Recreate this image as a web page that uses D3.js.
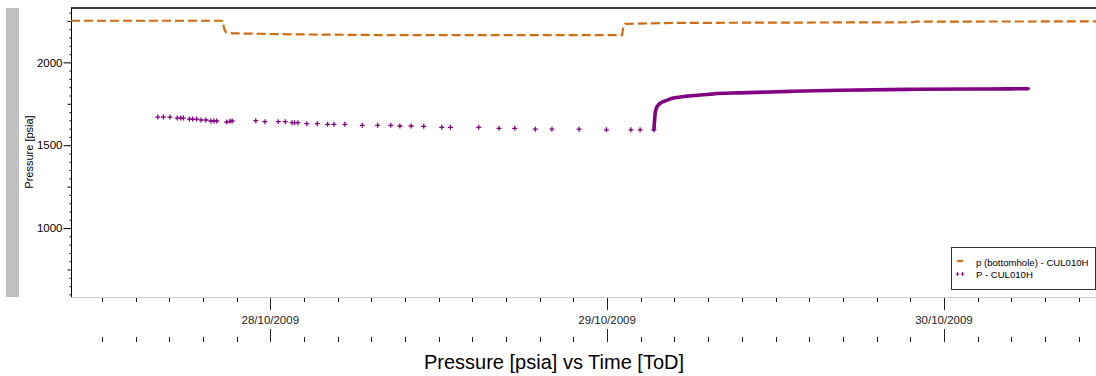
<!DOCTYPE html>
<html>
<head>
<meta charset="utf-8">
<script src="https://cdn.jsdelivr.net/npm/d3@7"></script>
<style>
  html, body { margin: 0; padding: 0; background: #fff; }
  svg { display: block; font-family: "Liberation Sans", Arial, sans-serif; }
</style>
</head>
<body>
<svg id="chart" width="1096" height="376"></svg>
<script>
// Bottomhole pressure gauge (stepped, dashed orange)
const bhTimes = [
  "2009-10-27T09:48", "2009-10-27T20:38", "2009-10-27T20:42", "2009-10-27T20:51",
  "2009-10-27T21:20", "2009-10-28T01:25", "2009-10-28T09:14", "2009-10-29T01:04",
  "2009-10-29T01:08", "2009-10-29T01:17", "2009-10-29T04:42", "2009-10-29T21:48",
  "2009-10-29T21:56", "2009-10-30T10:50"
];
const bhValues = [
  2251, 2251, 2205, 2180,
  2175, 2169, 2164, 2164,
  2205, 2232, 2238, 2242,
  2246, 2247
];

// Sparse drawdown readings (purple crosses)
const ddTimes = [
  "2009-10-27T15:59", "2009-10-27T16:23", "2009-10-27T16:51", "2009-10-27T17:22",
  "2009-10-27T17:37", "2009-10-27T17:48", "2009-10-27T18:14", "2009-10-27T18:28",
  "2009-10-27T18:45", "2009-10-27T19:04", "2009-10-27T19:25", "2009-10-27T19:46",
  "2009-10-27T19:59", "2009-10-27T20:11", "2009-10-27T20:54", "2009-10-27T21:08",
  "2009-10-27T21:17", "2009-10-27T22:58", "2009-10-27T23:37", "2009-10-28T00:34",
  "2009-10-28T01:04", "2009-10-28T01:33", "2009-10-28T01:44", "2009-10-28T01:58",
  "2009-10-28T02:36", "2009-10-28T03:21", "2009-10-28T04:05", "2009-10-28T04:32",
  "2009-10-28T05:19", "2009-10-28T06:33", "2009-10-28T07:39", "2009-10-28T08:35",
  "2009-10-28T09:14", "2009-10-28T10:02", "2009-10-28T10:56", "2009-10-28T12:13",
  "2009-10-28T12:50", "2009-10-28T14:51", "2009-10-28T16:18", "2009-10-28T17:25",
  "2009-10-28T18:53", "2009-10-28T20:04", "2009-10-28T22:00", "2009-10-28T23:57",
  "2009-10-29T01:42", "2009-10-29T02:21", "2009-10-29T03:20"
];
const ddValues = [
  1670, 1670, 1670, 1664,
  1664, 1664, 1658, 1658,
  1658, 1652, 1652, 1646,
  1646, 1646, 1640, 1644,
  1646, 1648, 1642, 1642,
  1642, 1636, 1636, 1636,
  1630, 1630, 1626, 1626,
  1626, 1620, 1620, 1620,
  1616, 1616, 1614, 1608,
  1608, 1608, 1602, 1602,
  1597, 1597, 1597, 1593,
  1593, 1593, 1593
];

// Dense build-up record (drawn as a thick trace)
const buTimes = [
  "2009-10-29T03:20", "2009-10-29T03:23", "2009-10-29T03:25", "2009-10-29T03:31",
  "2009-10-29T03:40", "2009-10-29T03:53", "2009-10-29T04:15", "2009-10-29T04:29",
  "2009-10-29T05:12", "2009-10-29T05:40", "2009-10-29T07:06", "2009-10-29T07:34",
  "2009-10-29T09:28", "2009-10-29T13:02", "2009-10-29T16:36", "2009-10-29T21:21",
  "2009-10-30T02:04", "2009-10-30T04:43", "2009-10-30T06:00"
];
const buValues = [
  1595, 1650, 1690, 1725,
  1745, 1758, 1771, 1779,
  1791, 1796, 1806, 1810,
  1816, 1825, 1832, 1837,
  1839, 1840, 1841
];

// Axis ticks
const yMajorTicks = [1000, 1500, 2000];
const yMidTicks = [750, 1250, 1750, 2250];
const dayTicks = ["2009-10-28T00:00", "2009-10-29T00:00", "2009-10-30T00:00"];
const dayLabels = ["28/10/2009", "29/10/2009", "30/10/2009"];

const seriesNames = ["p (bottomhole) - CUL010H", "P - CUL010H"];
const orange = "#d06c12";
const purple = "#820082";

const parse = d3.utcParse("%Y-%m-%dT%H:%M");
const svg = d3.select("#chart");

const box = { left: 71, right: 1096, top: 8, bottom: 297 };

const x = d3.scaleUtc()
  .domain([parse("2009-10-27T09:48"), parse("2009-10-30T10:50")])
  .range([box.left, box.right]);
const y = d3.scaleLinear().domain([584, 2328]).range([box.bottom, box.top]);

// left grey strip
svg.append("rect").attr("x", 6).attr("y", 8).attr("width", 13).attr("height", 289)
  .attr("fill", "#c0c0c0");

// plot frame: top border and bottom baseline
svg.append("line").attr("x1", box.left).attr("x2", box.right).attr("y1", box.top).attr("y2", box.top)
  .attr("stroke", "#000").attr("stroke-width", 1.5);
svg.append("line").attr("x1", box.left).attr("x2", box.right)
  .attr("y1", box.bottom + 0.5).attr("y2", box.bottom + 0.5)
  .attr("stroke", "#c8c8c8").attr("stroke-width", 1);

// y axis: minor (50), mid (250) and labelled major ticks
const yMinor = d3.range(600, 2301, 50).filter(v => v % 250 !== 0);
const yAx = svg.append("g").attr("transform", `translate(${box.left + 0.5},0)`);
yAx.append("g").call(d3.axisLeft(y).tickValues(yMinor).tickSize(2).tickFormat(""));
yAx.append("g").call(d3.axisLeft(y).tickValues(yMidTicks).tickSize(4).tickFormat(""));
yAx.append("g").call(d3.axisLeft(y).tickValues(yMajorTicks).tickSize(8).tickPadding(1).tickFormat(d3.format("d")));
yAx.selectAll("path.domain").attr("stroke", "#000").attr("d", `M0,${box.top}V${box.bottom}`);
yAx.selectAll(".tick line").attr("stroke", "#000");
yAx.selectAll(".tick text").attr("font-size", "11.5px").attr("fill", "#000")
  .attr("font-family", "Liberation Sans, Arial, sans-serif");

// x axis: two tick rows with day labels in between
const dayDates = dayTicks.map(parse);
const step = 144 * 60 * 1000; // 2.4 h
const xMinor = d3.range(-6, 25).map(i => new Date(dayDates[0].getTime() + i * step))
  .filter(d => d >= x.domain()[0] && d <= x.domain()[1])
  .filter(d => !dayDates.some(t => t.getTime() === d.getTime()));

function tickRow(yPos, dir, minorLen, majorLen) {
  const g = svg.append("g");
  g.selectAll("line.minor").data(xMinor).join("line").attr("class", "minor")
    .attr("x1", d => Math.round(x(d)) + 0.5).attr("x2", d => Math.round(x(d)) + 0.5)
    .attr("y1", yPos).attr("y2", yPos + dir * minorLen)
    .attr("stroke", "#222").attr("stroke-width", 1);
  g.selectAll("line.major").data(dayDates).join("line").attr("class", "major")
    .attr("x1", d => Math.round(x(d)) + 0.5).attr("x2", d => Math.round(x(d)) + 0.5)
    .attr("y1", yPos).attr("y2", yPos + dir * majorLen)
    .attr("stroke", "#222").attr("stroke-width", 1);
}
tickRow(298, 1, 4, 12);
tickRow(342, -1, 5, 13);

svg.append("g").selectAll("text").data(dayDates).join("text")
  .attr("x", d => x(d)).attr("y", 323.5)
  .attr("text-anchor", "middle").attr("font-size", "11.5px").attr("fill", "#222")
  .text((d, i) => dayLabels[i]);

// axis titles
svg.append("text").attr("transform", "translate(33,152) rotate(-90)")
  .attr("text-anchor", "middle").attr("font-size", "11px").attr("fill", "#000")
  .text("Pressure [psia]");
svg.append("text").attr("x", 554).attr("y", 369)
  .attr("text-anchor", "middle").attr("font-size", "20px").attr("fill", "#000")
  .text("Pressure [psia] vs Time [ToD]");

// clip to plot area
svg.append("clipPath").attr("id", "plot").append("rect")
  .attr("x", box.left).attr("y", box.top)
  .attr("width", box.right - box.left).attr("height", box.bottom - box.top);
const plot = svg.append("g").attr("clip-path", "url(#plot)");

// bottomhole pressure
const bh = bhTimes.map((t, i) => ({ t: parse(t), v: bhValues[i] }));
plot.append("path").datum(bh)
  .attr("d", d3.line().x(d => x(d.t)).y(d => y(d.v)))
  .attr("fill", "none").attr("stroke", orange).attr("stroke-width", 2.2)
  .attr("stroke-dasharray", "9,4");

// build-up trace
const bu = buTimes.map((t, i) => ({ t: parse(t), v: buValues[i] }));
plot.append("path").datum(bu)
  .attr("d", d3.line().curve(d3.curveMonotoneX).x(d => x(d.t)).y(d => y(d.v)))
  .attr("fill", "none").attr("stroke", purple).attr("stroke-width", 3.6)
  .attr("stroke-linecap", "round");

// drawdown crosses
const dd = ddTimes.map((t, i) => ({ t: parse(t), v: ddValues[i] }));
const cross = "M-2.5,0H2.5M0,-2.5V2.5";
plot.append("g").selectAll("path").data(dd).join("path")
  .attr("transform", d => `translate(${x(d.t)},${y(d.v)})`)
  .attr("d", cross).attr("stroke", purple).attr("stroke-width", 1.3).attr("fill", "none");

// legend
const lg = svg.append("g");
lg.append("rect").attr("x", 951.5).attr("y", 247.5).attr("width", 144).attr("height", 42)
  .attr("fill", "#fff").attr("stroke", "#333").attr("stroke-width", 1);
lg.append("line").attr("x1", 957).attr("x2", 963).attr("y1", 261).attr("y2", 261)
  .attr("stroke", orange).attr("stroke-width", 2.2);
[957.5, 962.5].forEach(cx => {
  lg.append("path").attr("transform", `translate(${cx},274)`).attr("d", "M-1.8,0H1.8M0,-1.8V1.8")
    .attr("stroke", purple).attr("stroke-width", 1).attr("fill", "none");
});
lg.selectAll("text").data(seriesNames).join("text")
  .attr("x", 976).attr("y", (d, i) => 265.5 + i * 12)
  .attr("font-size", "9.6px").attr("fill", "#000")
  .text(d => d);
</script>
</body>
</html>
